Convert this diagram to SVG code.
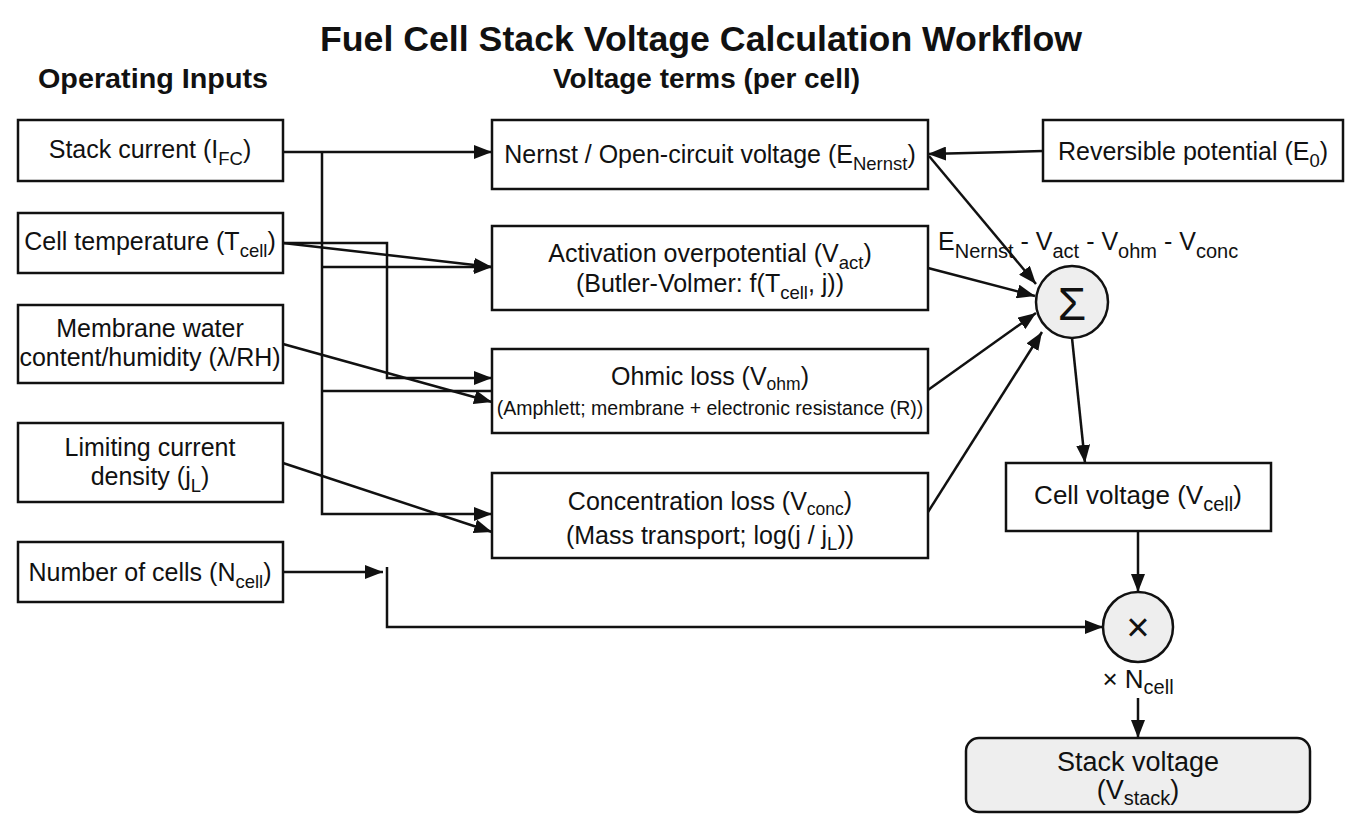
<svg xmlns="http://www.w3.org/2000/svg" width="1366" height="832" viewBox="0 0 1366 832">
<defs>
<marker id="arr" viewBox="0 0 18 14" refX="18" refY="7" markerWidth="18" markerHeight="14" markerUnits="userSpaceOnUse" orient="auto"><path d="M0,0 L18,7 L0,14 z" fill="#111"/></marker>
<style>
text{font-family:"Liberation Sans",Arial,sans-serif;fill:#111;}
.box{fill:#fff;stroke:#111;stroke-width:2.5;}
.gray{fill:#eeeeee;stroke:#111;stroke-width:2.5;}
.t{font-size:25px;text-anchor:middle;}
.s{font-size:19.5px;text-anchor:middle;}
.sub{font-size:18.5px;}
.h{font-size:27px;font-weight:bold;}
.title{font-size:35px;font-weight:bold;}
.ln{fill:none;stroke:#111;stroke-width:2.5;}
.a{marker-end:url(#arr);}
</style>
</defs>
<rect width="1366" height="832" fill="#fff"/>
<text class="title" x="320" y="51" textLength="762" lengthAdjust="spacingAndGlyphs">Fuel Cell Stack Voltage Calculation Workflow</text>
<text class="h" x="38" y="88" textLength="230" lengthAdjust="spacingAndGlyphs">Operating Inputs</text>
<text class="h" x="553" y="88" textLength="307" lengthAdjust="spacingAndGlyphs">Voltage terms (per cell)</text>

<g id="connectors">
<path class="ln a" d="M283,152 H492"/>
<path class="ln a" d="M322,152 V514 H492"/>
<path class="ln a" d="M322,267 H492"/>
<path class="ln" d="M322,391 H492"/>
<path class="ln a" d="M283,243 L492,267"/>
<path class="ln a" d="M283,243 H387 V378 H492"/>
<path class="ln a" d="M283,344 L492,402"/>
<path class="ln a" d="M283,463 L492,532"/>
<path class="ln a" d="M283,572 H383"/>
<path class="ln a" d="M387,567 V627 H1103"/>
<path class="ln a" d="M1043,151 L928,154"/>
<path class="ln a" d="M929,156 L1036,284"/>
<path class="ln a" d="M928,268 L1035,296"/>
<path class="ln a" d="M928,390 L1036,313"/>
<path class="ln a" d="M928,512 L1042,332"/>
<path class="ln a" d="M1072,338 L1085,463"/>
<path class="ln a" d="M1138,531 V592"/>
<path class="ln a" d="M1138,698 V738"/>
</g>

<g id="stack-current"><rect class="box" x="18" y="120" width="265" height="61"/><text class="t" x="150" y="158">Stack current (I<tspan class="sub" dy="7">FC</tspan><tspan dy="-7">)</tspan></text></g>
<g id="cell-temperature"><rect class="box" x="18" y="213" width="265" height="60"/><text class="t" x="150" y="250">Cell temperature (T<tspan class="sub" dy="7">cell</tspan><tspan dy="-7">)</tspan></text></g>
<g id="membrane"><rect class="box" x="18" y="305" width="265" height="78"/><text class="t" x="150" y="337">Membrane water</text><text class="t" x="150" y="366">content/humidity (λ/RH)</text></g>
<g id="limiting"><rect class="box" x="18" y="423" width="265" height="79"/><text class="t" x="150" y="456">Limiting current</text><text class="t" x="150" y="485">density (j<tspan class="sub" dy="7">L</tspan><tspan dy="-7">)</tspan></text></g>
<g id="num-cells"><rect class="box" x="18" y="542" width="265" height="60"/><text class="t" x="150" y="581">Number of cells (N<tspan class="sub" dy="7">cell</tspan><tspan dy="-7">)</tspan></text></g>

<g id="nernst"><rect class="box" x="492" y="120" width="436" height="69"/><text class="t" x="710" y="163">Nernst / Open-circuit voltage (E<tspan class="sub" dy="7">Nernst</tspan><tspan dy="-7">)</tspan></text></g>
<g id="activation"><rect class="box" x="492" y="226" width="436" height="84"/><text class="t" x="710" y="262">Activation overpotential (V<tspan class="sub" dy="7">act</tspan><tspan dy="-7">)</tspan></text><text class="t" x="710" y="292">(Butler-Volmer: f(T<tspan class="sub" dy="7">cell</tspan><tspan dy="-7">, j))</tspan></text></g>
<g id="ohmic"><rect class="box" x="492" y="349" width="436" height="84"/><text class="t" x="710" y="385">Ohmic loss (V<tspan style="font-size:17.5px" dy="5">ohm</tspan><tspan dy="-5">)</tspan></text><text class="s" x="710" y="415">(Amphlett; membrane + electronic resistance (R))</text></g>
<g id="concentration"><rect class="box" x="492" y="473" width="436" height="85"/><text class="t" x="710" y="510">Concentration loss (V<tspan style="font-size:17.5px" dy="5">conc</tspan><tspan dy="-5">)</tspan></text><text class="t" x="710" y="544">(Mass transport; log(j / j<tspan class="sub" dy="6">L</tspan><tspan dy="-6">))</tspan></text></g>

<g id="reversible"><rect class="box" x="1043" y="120" width="300" height="61"/><text class="t" x="1193" y="160">Reversible potential (E<tspan class="sub" dy="7">0</tspan><tspan dy="-7">)</tspan></text></g>

<g id="sum-label"><text x="938" y="250" style="font-size:25px">E<tspan style="font-size:20px" dy="8">Nernst</tspan><tspan dy="-8"> - V</tspan><tspan style="font-size:20px" dy="8">act</tspan><tspan dy="-8"> - V</tspan><tspan style="font-size:20px" dy="8">ohm</tspan><tspan dy="-8"> - V</tspan><tspan style="font-size:20px" dy="8">conc</tspan></text></g>
<g id="sigma"><circle class="gray" cx="1072" cy="302" r="36"/><text x="1072" y="320" style="font-size:46px;text-anchor:middle">Σ</text></g>
<g id="cell-voltage"><rect class="box" x="1006" y="463" width="265" height="68"/><text x="1138" y="504" style="font-size:26px;text-anchor:middle">Cell voltage (V<tspan style="font-size:20px" dy="7">cell</tspan><tspan dy="-7">)</tspan></text></g>
<g id="multiply"><circle class="gray" cx="1138" cy="627" r="35"/><text x="1138" y="641" style="font-size:40px;text-anchor:middle">×</text></g>
<g id="mult-label"><text x="1138" y="688" style="font-size:26px;text-anchor:middle">× N<tspan style="font-size:20px" dy="6">cell</tspan></text></g>
<g id="stack-voltage"><rect class="gray" x="966" y="738" width="344" height="74" rx="13"/><text x="1138" y="771" style="font-size:27px;text-anchor:middle">Stack voltage</text><text x="1138" y="799" style="font-size:27px;text-anchor:middle">(V<tspan style="font-size:20px" dy="6">stack</tspan><tspan dy="-6">)</tspan></text></g>
</svg>
